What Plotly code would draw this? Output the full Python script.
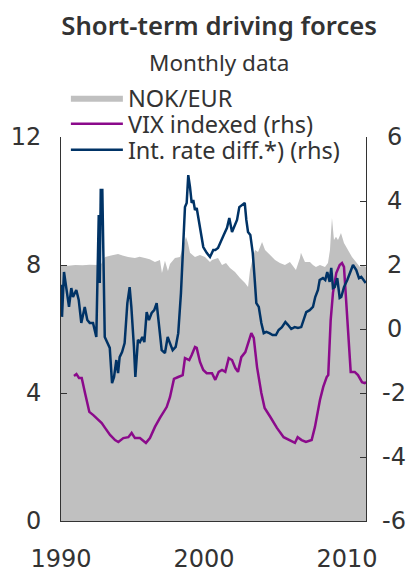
import plotly.graph_objects as go

# NOK/EUR (left axis)
nok_year = [1990.0, 1990.5, 1991.0, 1991.5, 1992.0, 1992.59, 1992.73, 1993.08, 1993.5, 1993.99,
            1994.3, 1994.69, 1995.17, 1995.5, 1995.87, 1996.2, 1996.57, 1996.92, 1997.06, 1997.27,
            1997.48, 1997.62, 1997.97, 1998.32, 1998.53, 1998.74, 1998.88, 1999.02, 1999.37, 1999.72,
            2000.07, 2000.42, 2000.56, 2000.98, 2001.26, 2001.54, 2001.82, 2002.17, 2002.52, 2002.87,
            2003.08, 2003.22, 2003.43, 2003.57, 2003.78, 2004.06, 2004.27, 2004.62, 2004.97, 2005.31,
            2005.66, 2006.01, 2006.15, 2006.43, 2006.71, 2006.78, 2007.06, 2007.41, 2007.62, 2007.83,
            2008.11, 2008.46, 2008.67, 2008.81, 2008.88, 2008.95, 2009.09, 2009.23, 2009.37, 2009.58,
            2009.79, 2010.07, 2010.35, 2010.63, 2010.91, 2011.05, 2011.33]
nok_eur = [8.0, 7.98, 8.0, 7.99, 8.01, 8.0, 7.97, 8.25, 8.3, 8.34,
           8.3, 8.25, 8.22, 8.26, 8.22, 8.18, 8.09, 8.16, 7.75, 8.13,
           7.81, 8.03, 8.22, 8.25, 8.56, 8.88, 8.69, 8.38, 8.25, 8.31,
           8.25, 8.09, 8.16, 8.22, 8.0, 8.06, 7.91, 7.78, 7.59, 7.44,
           7.31, 7.84, 8.25, 8.47, 8.41, 8.72, 8.47, 8.31, 8.16, 8.06,
           8.0, 8.09, 8.0, 7.84, 8.22, 8.38, 8.09, 8.09, 8.0, 7.94,
           8.0, 7.94, 8.06, 8.47, 9.0, 9.47, 8.78, 8.88, 8.78, 9.0,
           8.69, 8.47, 8.25, 8.09, 7.94, 8.0, 7.94]

# VIX indexed (rhs)
vix_year = [1990.91, 1991.08, 1991.26, 1991.45, 1991.68, 1991.98, 1992.26, 1992.61, 1992.85, 1993.08,
            1993.43, 1993.78, 1994.01, 1994.36, 1994.71, 1994.94, 1995.17, 1995.52, 1995.94, 1996.22,
            1996.57, 1996.92, 1997.39, 1997.62, 1997.9, 1998.2, 1998.51, 1998.67, 1998.97, 1999.14,
            1999.37, 1999.49, 1999.72, 1999.95, 2000.19, 2000.56, 2000.79, 2001.03, 2001.26, 2001.49,
            2001.73, 2001.96, 2002.19, 2002.38, 2002.61, 2002.89, 2003.13, 2003.31, 2003.48, 2003.71,
            2004.01, 2004.24, 2004.64, 2005.1, 2005.57, 2006.03, 2006.36, 2006.55, 2006.83, 2007.13,
            2007.53, 2007.76, 2008.11, 2008.34, 2008.58, 2008.69, 2008.86, 2009.02, 2009.25, 2009.49,
            2009.65, 2009.79, 2009.95, 2010.14, 2010.26, 2010.54, 2010.77, 2011.05, 2011.24, 2011.33]
vix = [-1.47, -1.41, -1.53, -1.53, -2.0, -2.59, -2.69, -2.84, -2.94, -3.09,
       -3.31, -3.47, -3.53, -3.41, -3.38, -3.25, -3.41, -3.41, -3.56, -3.41,
       -3.06, -2.78, -2.44, -2.13, -1.56, -1.5, -1.44, -0.91, -0.97, -0.81,
       -0.56, -0.59, -1.03, -1.28, -1.38, -1.38, -1.59, -1.34, -1.28, -1.34,
       -0.91, -0.97, -1.22, -1.34, -0.88, -0.72, -0.41, -0.13, -0.28, -1.19,
       -2.0, -2.47, -2.75, -3.09, -3.38, -3.47, -3.56, -3.38, -3.47, -3.53,
       -3.47, -3.06, -2.22, -1.81, -1.5, -1.44, 0.28, 1.13, 1.75, 2.0,
       2.06, 1.94, 0.91, -0.34, -1.34, -1.34, -1.44, -1.66, -1.69, -1.66]

# Int. rate diff.*) (rhs)
ird_year = [1990.02, 1990.07, 1990.21, 1990.37, 1990.56, 1990.72, 1990.84, 1991.07, 1991.24, 1991.42,
            1991.66, 1991.84, 1992.01, 1992.24, 1992.47, 1992.64, 1992.71, 1992.78, 1992.89, 1993.06,
            1993.41, 1993.57, 1993.71, 1993.87, 1993.99, 1994.1, 1994.27, 1994.45, 1994.64, 1994.8,
            1994.92, 1995.1, 1995.2, 1995.38, 1995.52, 1995.69, 1995.83, 1995.99, 1996.15, 1996.34,
            1996.52, 1996.69, 1996.85, 1997.04, 1997.27, 1997.46, 1997.62, 1997.81, 1998.02, 1998.2,
            1998.39, 1998.55, 1998.67, 1998.79, 1998.9, 1999.02, 1999.14, 1999.25, 1999.37, 1999.49,
            1999.72, 1999.95, 2000.19, 2000.42, 2000.65, 2000.79, 2000.98, 2001.14, 2001.38, 2001.61,
            2001.77, 2001.96, 2002.15, 2002.31, 2002.47, 2002.66, 2002.85, 2002.96, 2003.08, 2003.24,
            2003.41, 2003.55, 2003.66, 2003.83, 2004.01, 2004.18, 2004.36, 2004.57, 2004.8, 2005.03,
            2005.22, 2005.45, 2005.69, 2005.87, 2006.1, 2006.34, 2006.57, 2006.8, 2006.99, 2007.15,
            2007.39, 2007.62, 2007.78, 2007.97, 2008.09, 2008.32, 2008.48, 2008.62, 2008.79, 2008.9,
            2009.02, 2009.14, 2009.32, 2009.49, 2009.6, 2009.79, 2010.02, 2010.26, 2010.42, 2010.65,
            2010.84, 2011.0, 2011.19, 2011.31]
ird = [1.38, 0.38, 1.78, 1.22, 0.69, 1.28, 1.0, 1.22, 0.91, 0.19,
       0.69, 0.28, 0.19, 0.19, -0.25, 3.56, 1.44, 4.34, 4.34, -0.25,
       -0.59, -1.69, -1.5, -0.97, -1.38, -0.88, -0.72, -0.44, 0.81, 1.31,
       0.69, -0.56, -1.5, -0.34, -0.41, -0.25, -0.41, 0.53, 0.28, 0.5,
       0.59, 0.81, 0.06, -0.66, -0.75, -0.25, -0.44, -0.66, -0.56, -0.13,
       1.13, 2.69, 3.81, 3.94, 4.81, 4.44, 3.94, 4.03, 3.72, 3.78,
       3.19, 2.56, 2.38, 2.25, 2.47, 2.47, 2.53, 2.72, 2.94, 3.16,
       3.47, 3.03, 3.25, 3.41, 3.81, 3.88, 3.94, 3.41, 3.03, 2.94,
       2.38, 1.53, 0.81, 0.69, 0.19, -0.13, -0.09, -0.13, -0.19, -0.19,
       -0.03, 0.06, 0.22, 0.13, 0.0, 0.06, 0.03, 0.06, 0.28, 0.53,
       0.59, 0.69, 1.0, 1.22, 1.53, 1.59, 1.53, 1.78, 1.47, 1.91,
       1.28, 1.31, 1.59, 0.97, 1.0, 1.31, 1.53, 1.78, 2.0, 1.84,
       1.59, 1.63, 1.53, 1.44]

left_ticks = [0, 4, 8, 12]
right_ticks = [-6, -4, -2, 0, 2, 4, 6]
right_labels = ["-6", "-4", "-2", "0", "2", "4", "6"]
year_ticks = [1990, 2000, 2010]

FONT = "Noto Sans"
NUMFONT = "DejaVu Sans"
TXT = "#333333"

fig = go.Figure()
fig.add_trace(go.Scatter(x=nok_year, y=nok_eur, name="NOK/EUR", mode="lines",
                         fill="tozeroy", fillcolor="#c0c0c0", legend="legend",
                         line=dict(width=0, color="#c0c0c0")))
fig.add_trace(go.Scatter(x=vix_year, y=vix, name="VIX indexed (rhs)", mode="lines",
                         yaxis="y2", legend="legend2",
                         line=dict(color="#8b0a8b", width=2.5)))
fig.add_trace(go.Scatter(x=ird_year, y=ird, name="Int. rate diff.*) (rhs)", mode="lines",
                         yaxis="y2", legend="legend3",
                         line=dict(color="#003366", width=2.5)))

leg = dict(x=0.016, xanchor="left", yanchor="middle", bgcolor="rgba(0,0,0,0)",
           itemwidth=52, font=dict(size=23.5, color=TXT, family=FONT))

# right-hand axis labels, centred like the original
annots = [dict(text="Monthly data", x=0.518, y=1.193, xref="paper", yref="paper",
               xanchor="center", yanchor="middle",
               showarrow=False, font=dict(size=22.5, color=TXT))]
for v, t in zip(right_ticks, right_labels):
    annots.append(dict(text=t, x=1.092, y=v, xref="paper", yref="y2",
                       xanchor="center", yanchor="middle", showarrow=False,
                       font=dict(size=24, family=NUMFONT, color=TXT)))

fig.update_layout(
    width=412, height=572,
    margin=dict(l=61, r=46, t=137, b=51, autoexpand=False),
    plot_bgcolor="white", paper_bgcolor="white",
    font=dict(family=FONT, color=TXT, size=21),
    showlegend=True,
    legend=dict(leg, y=1.1016),
    legend2=dict(leg, y=1.0339),
    legend3=dict(leg, y=0.9661),
    title=dict(text="Short-term driving forces", x=0.532, xanchor="center",
               y=0.955, yanchor="middle",
               font=dict(size=25.7, color=TXT, weight=600)),
    annotations=annots,
    xaxis=dict(range=[1990, 2011.33], tickvals=year_ticks, ticks="", showgrid=False,
               zeroline=False, showline=True, linecolor="#333333", linewidth=1,
               ticklabelstandoff=16, tickfont=dict(size=24, family=NUMFONT)),
    yaxis=dict(range=[0, 12], tickvals=left_ticks, ticks="inside", ticklen=6,
               tickcolor="#333333", showgrid=False, zeroline=False, showline=True,
               linecolor="#333333", linewidth=1, ticklabelstandoff=14,
               tickfont=dict(size=24, family=NUMFONT)),
    yaxis2=dict(range=[-6, 6], tickvals=right_ticks, showticklabels=False,
                overlaying="y", side="right",
                ticks="inside", ticklen=6, tickcolor="#333333", showgrid=False,
                zeroline=False, showline=True, linecolor="#333333", linewidth=1),
)

fig.write_html("out.html", config={"displayModeBar": False},
               post_script="document.body.style.margin='0';")
